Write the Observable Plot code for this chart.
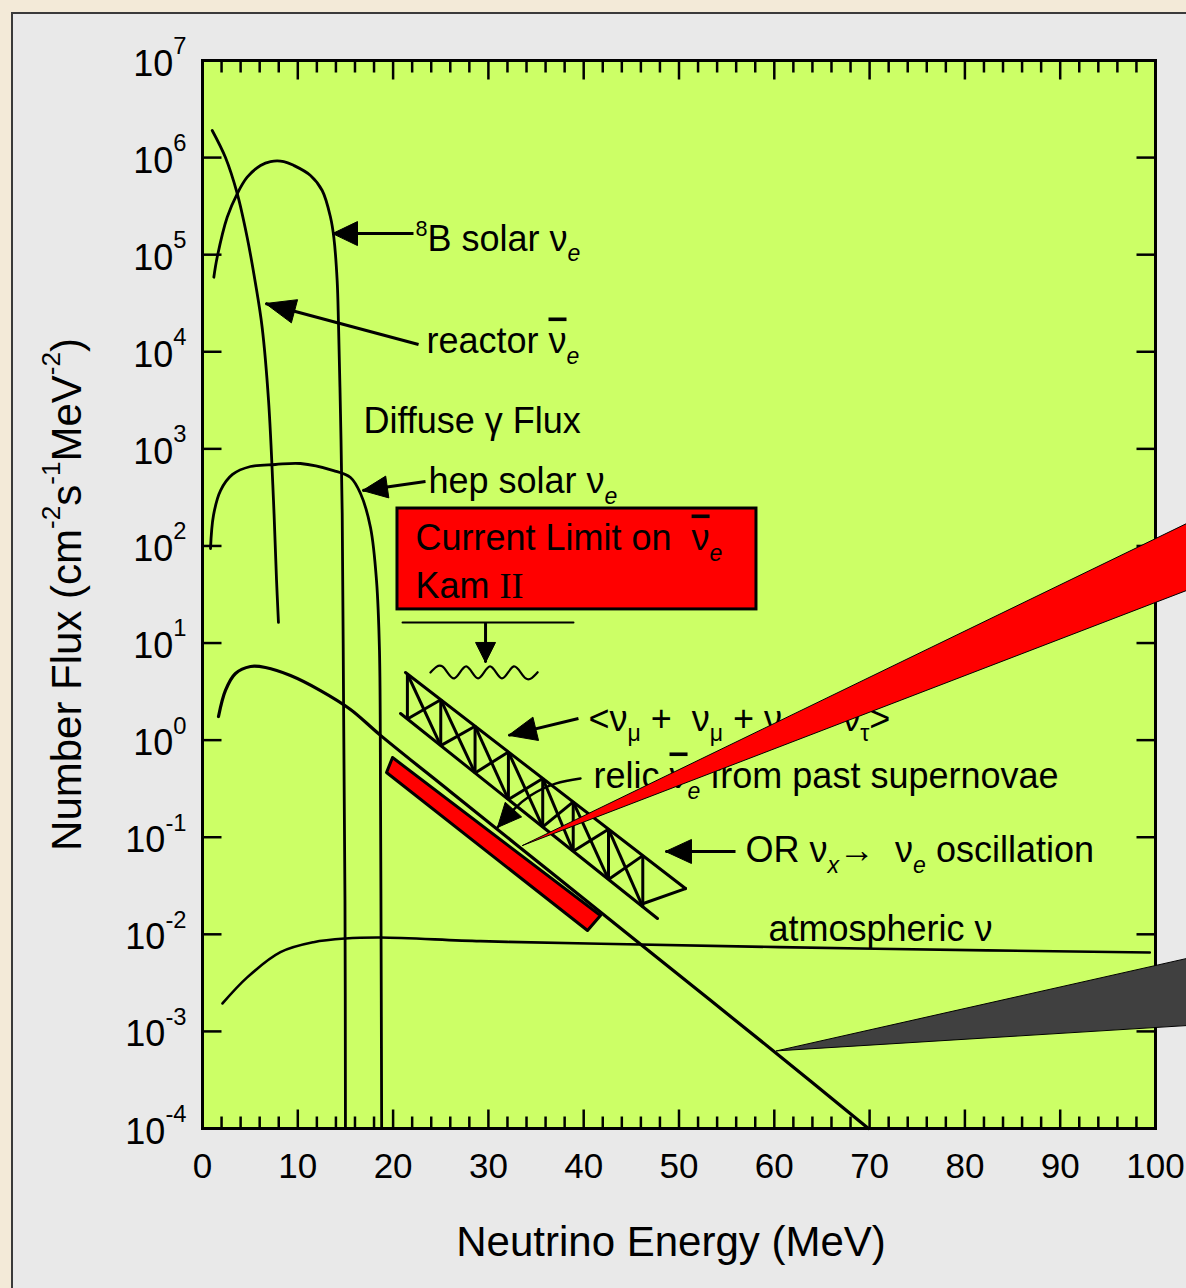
<!DOCTYPE html>
<html><head><meta charset="utf-8">
<script src="https://cdn.jsdelivr.net/npm/d3@7"></script>
<script src="https://cdn.jsdelivr.net/npm/@observablehq/plot@0.6"></script>
<style>
html,body{margin:0;padding:0;}
body{width:1186px;height:1288px;background:#f3ead8;position:relative;overflow:hidden;font-family:"Liberation Sans",Arial,sans-serif;}
#panel{position:absolute;left:11px;top:12px;width:1200px;height:1300px;background:#e9e9e9;border:2px solid #3a3a3a;box-sizing:border-box;}
#chart{position:absolute;left:0;top:0;}
#chart text{white-space:pre;}
</style></head><body><div id="panel"></div><div id="chart"></div>
<script>
// ---- data (energy in MeV, flux in cm^-2 s^-1 MeV^-1) ----
const reactorE = [1.02, 2.41, 3.64, 4.69, 5.56, 6.26, 6.93, 7.45, 7.77, 7.97];
const reactorF = [1.9e6, 1.0e6, 4.27e5, 1.5e5, 5.05e4, 1.78e4, 3.15e3, 294, 44, 16.3];
const b8E = [1.19, 1.54, 2.59, 3.64, 4.69, 6.09, 7.14, 8.53, 9.58, 11.33, 12.56, 13.43, 13.78, 14.13, 14.27, 14.48, 14.66, 14.80, 14.95, 15.0];
const b8F = [5.86e4, 9.4e4, 2.43e5, 4.24e5, 6.28e5, 8.3e5, 9.1e5, 9.1e5, 8.3e5, 6.55e5, 4.58e5, 2.43e5, 1.51e5, 5.4e4, 1.95e4, 2.3e3, 216, 2.56, 0.0223, 1e-4];
const hepE = [0.84, 1.15, 1.89, 3.15, 5.04, 7.66, 10.28, 13.75, 15.53, 16.58, 17.63, 18.26, 18.57, 18.68, 18.76, 18.8];
const hepF = [94, 206, 372, 545, 658, 690, 707, 598, 507, 347, 155, 44, 8.4, 0.24, 2.1e-3, 1e-4];
const diffuseE = [1.68, 2.41, 3.46, 5.04, 6.61, 9.23, 12.38, 15.53, 18.68, 26.02, 36.52, 47.01, 60.23, 69.88];
const diffuseF = [1.75, 3.25, 4.85, 5.73, 5.6, 4.63, 3.24, 2.07, 1.12, 0.294, 0.0438, 6.53e-3, 5.93e-4, 1.0e-4];
const atmosE = [2.10, 4.69, 8.18, 11.65, 15.0, 18.68, 29.17, 41.76, 70.6, 99.4];
const atmosF = [1.94e-3, 3.6e-3, 6.55e-3, 8.3e-3, 9.06e-3, 9.27e-3, 8.5e-3, 8.0e-3, 7.1e-3, 6.5e-3];

// relic band (red bar) corners
const relicBarE = [19.94, 41.76, 40.40, 19.31];
const relicBarF = [0.662, 0.0156, 0.01094, 0.464];
// oscillation band (hatched truss)
const bandTopE = [21.30, 50.68], bandTopF = [4.97, 0.0296];
const bandBotE = [20.78, 47.74], bandBotF = [1.88, 0.01455];
const bandCloseE = [50.68, 45.96], bandCloseF = [0.0296, 0.0203];
const strutE = [21.5, 25.0, 28.6, 32.1, 35.7, 38.9, 42.6, 46.2];
// Kam II limit
const limitE = [20.99, 38.93], limitF = [16.3, 16.3];
const boxE = [20.46, 58.13], boxF = [22.2, 243];
const waveE = [23.92, 25.17, 26.42, 27.67, 28.92, 30.17, 31.42, 32.67, 33.92, 35.17];
const waveF = [4.97, 5.74, 4.32, 5.74, 4.32, 5.74, 4.32, 5.74, 4.32, 5.0];
// callout wedges
const redWedgeE = [33.58, 104, 104], redWedgeF = [0.0822, 184.5, 37.1];
const grayWedgeE = [60.23, 104, 104], grayWedgeF = [6.3e-4, 5.85e-3, 1.16e-3];
// arrows: tail -> tip
const arrowTail = [[22.14, 1.65e5], [22.67, 1.19e4], [23.4, 461], [29.70, 16.3], [39.45, 1.67], [55.93, 0.0713]];
const arrowTip  = [[13.64, 1.65e5], [6.61, 3.14e4], [16.79, 372], [29.70, 6.31], [32.11, 1.12], [48.58, 0.0713]];
const arrowHead = [[25, 12], [30, 12], [25, 11], [20, 10], [28, 12], [26, 12]];
const relicArrowE = [39.66, 37.04, 34.42, 32.53, 30.95];
const relicArrowF = [0.403, 0.357, 0.269, 0.188, 0.126];
// labels  (^{} superscript, _{} subscript, ~{} overbar, !{} serif)
const labelText = ["^{8}B solar ν_{e}", "reactor ~{ν}_{e}", "Diffuse γ Flux", "hep solar ν_{e}",
  "Current Limit on  ~{ν}_{e}", "Kam !{II}", "<ν_{μ} +  ν_{μ} + ν_{τ} +  ν_{τ}>",
  "relic ~{ν}_{e} from past supernovae", "OR ν_{x}→  ν_{e} oscillation", "atmospheric ν"];
const labelE = [22.35, 23.50, 16.89, 23.71, 22.35, 22.35, 40.50, 41.03, 56.98, 59.39];
const labelF = [1.10e5, 9.6e3, 1.44e3, 347, 89.8, 28.8, 1.256, 0.318, 0.055, 8.63e-3];
// axes
const xLabels = [0, 10, 20, 30, 40, 50, 60, 70, 80, 90, 100];
const xMinor = d3.range(2, 100, 2).filter(d => d % 10 !== 0);
const yExponents = [-4, -3, -2, -1, 0, 1, 2, 3, 4, 5, 6, 7];
const xTitle = "Neutrino Energy (MeV)";
const yTitle = "Number Flux (cm^{-2}s^{-1}MeV^{-2})";

// ---- helpers ----
const pts = (E, F) => E.map((e, i) => ({E: e, F: F[i]}));
const xPix = d3.scaleLinear([0, 100], [202, 1155]);
const yPix = d3.scaleLog([1e-4, 1e7], [1128, 60]);
const edge = (E, F) => { const s = d3.scaleLinear().domain(E).range(F.map(Math.log10)); return e => 10 ** s(e); };
const topF = edge(bandTopE, bandTopF), botF = edge(bandBotE, bandBotF);
const struts = strutE.map(e => ({E: e, top: topF(e), bot: botF(e)}));
const diags = [];
for (let i = 0; i < struts.length - 1; i++) {
  const a = struts[i], b = struts[i + 1];
  diags.push({E1: a.E, F1: a.top, E2: b.E, F2: b.bot});
  diags.push({E1: a.E, F1: a.bot, E2: b.E, F2: b.top});
}
function head(tail, tip, len, half, id) {
  const px = xPix(tip[0]), py = yPix(tip[1]), qx = xPix(tail[0]), qy = yPix(tail[1]);
  const d = Math.hypot(px - qx, py - qy), ux = (px - qx) / d, uy = (py - qy) / d;
  const bx = px - ux * len, by = py - uy * len;
  return [[px, py], [bx - uy * half, by + ux * half], [bx + uy * half, by - ux * half], [px, py]]
    .map(([X, Y]) => ({E: xPix.invert(X), F: yPix.invert(Y), id}));
}
const heads = arrowTail.flatMap((t, i) => head(t, arrowTip[i], arrowHead[i][0], arrowHead[i][1], i));
const nR = relicArrowE.length;
heads.push(...head([relicArrowE[nR - 2], relicArrowF[nR - 2]], [relicArrowE[nR - 1], relicArrowF[nR - 1]], 24, 11, 99));
const arrows = arrowTail.map((t, i) => ({E1: t[0], F1: t[1], E2: arrowTip[i][0], F2: arrowTip[i][1]}));
const closed = a => [...a, a[0]];
const tickSym = (dx, dy) => ({draw(ctx) { ctx.moveTo(0, 0); ctx.lineTo(dx, dy); }});

const curves = [
  {E: reactorE, F: reactorF, w: 2.8}, {E: b8E, F: b8F, w: 2.8}, {E: hepE, F: hepF, w: 2.8},
  {E: diffuseE, F: diffuseF, w: 3.2}, {E: atmosE, F: atmosF, w: 2.6}
];

const svg = Plot.plot({
  width: 1186, height: 1288,
  marginLeft: 202, marginRight: 31, marginTop: 60, marginBottom: 160,
  x: {domain: [0, 100], axis: null},
  y: {type: "log", domain: [1e-4, 1e7], axis: null},
  style: {background: "transparent", fontFamily: '"Liberation Sans", Arial, sans-serif', color: "black", overflow: "visible"},
  marks: [
    Plot.frame({fill: "#ccff66", stroke: "none"}),
    ...curves.map(c => Plot.line(pts(c.E, c.F), {x: "E", y: "F", curve: "catmull-rom", stroke: "black", strokeWidth: c.w})),
    // hatched band
    Plot.line(pts(bandTopE, bandTopF), {x: "E", y: "F", stroke: "black", strokeWidth: 3}),
    Plot.line(pts(bandBotE, bandBotF), {x: "E", y: "F", stroke: "black", strokeWidth: 3}),
    Plot.line(pts(bandCloseE, bandCloseF), {x: "E", y: "F", stroke: "black", strokeWidth: 3}),
    Plot.link(struts, {x1: "E", x2: "E", y1: "top", y2: "bot", stroke: "black", strokeWidth: 3}),
    Plot.link(diags, {x1: "E1", y1: "F1", x2: "E2", y2: "F2", stroke: "black", strokeWidth: 3}),
    // Kam II limit
    Plot.line(pts(limitE, limitF), {x: "E", y: "F", stroke: "black", strokeWidth: 2}),
    Plot.line(pts(waveE, waveF), {x: "E", y: "F", curve: "natural", stroke: "black", strokeWidth: 2.2}),
    // arrows
    Plot.link(arrows, {x1: "E1", y1: "F1", x2: "E2", y2: "F2", stroke: "black", strokeWidth: 3}),
    Plot.line(pts(relicArrowE, relicArrowF), {x: "E", y: "F", curve: "natural", stroke: "black", strokeWidth: 2.5}),
    Plot.line(heads, {x: "E", y: "F", z: "id", fill: "black", stroke: "black", strokeWidth: 1}),
    // red box & relic bar
    Plot.rect([0], {x1: () => boxE[0], x2: () => boxE[1], y1: () => boxF[0], y2: () => boxF[1], fill: "#ff0000", stroke: "black", strokeWidth: 3}),
    Plot.line(closed(pts(relicBarE, relicBarF)), {x: "E", y: "F", fill: "#ff0000", stroke: "black", strokeWidth: 3}),
    // annotations
    Plot.text(labelText.map((t, i) => i), {x: i => labelE[i], y: i => labelF[i], text: i => labelText[i],
      textAnchor: "start", lineAnchor: "bottom", fontSize: 36}),
    // frame & ticks
    Plot.frame({stroke: "black", strokeWidth: 3}),
    Plot.dot(xMinor, {x: d => d, frameAnchor: "bottom", symbol: tickSym(0, -12), stroke: "black", strokeWidth: 2.5}),
    Plot.dot(xMinor, {x: d => d, frameAnchor: "top", symbol: tickSym(0, 12), stroke: "black", strokeWidth: 2.5}),
    Plot.dot(xLabels, {x: d => d, frameAnchor: "bottom", symbol: tickSym(0, -19), stroke: "black", strokeWidth: 2.5}),
    Plot.dot(xLabels, {x: d => d, frameAnchor: "top", symbol: tickSym(0, 19), stroke: "black", strokeWidth: 2.5}),
    Plot.dot(yExponents, {y: d => 10 ** d, frameAnchor: "left", symbol: tickSym(19, 0), stroke: "black", strokeWidth: 2.5}),
    Plot.dot(yExponents, {y: d => 10 ** d, frameAnchor: "right", symbol: tickSym(-19, 0), stroke: "black", strokeWidth: 2.5}),
    // callout wedges
    Plot.line(closed(pts(redWedgeE, redWedgeF)), {x: "E", y: "F", fill: "#ff0000", stroke: "black", strokeWidth: 1}),
    Plot.line(closed(pts(grayWedgeE, grayWedgeF)), {x: "E", y: "F", fill: "#404040", stroke: "black", strokeWidth: 1}),
    // tick labels & titles
    Plot.text(xLabels, {x: d => d, frameAnchor: "bottom", dy: 49, text: d => String(d), fontSize: 35, lineAnchor: "bottom"}),
    Plot.text(yExponents, {y: d => 10 ** d, frameAnchor: "left", dx: -16, dy: 15, text: d => `10^{${d}}`,
      textAnchor: "end", lineAnchor: "bottom", fontSize: 36}),
    Plot.text([xTitle], {frameAnchor: "bottom", dx: -8, dy: 127, text: d => d, fontSize: 42, lineAnchor: "bottom"}),
    Plot.text([yTitle], {frameAnchor: "left", dx: -122, text: d => d, rotate: -90, fontSize: 42, lineAnchor: "bottom", textAnchor: "middle"})
  ]
});
document.getElementById("chart").appendChild(svg);

// ---- rich text (superscripts / subscripts / overbar / serif) ----
const NS = "http://www.w3.org/2000/svg";
function richify(el, o) {
  const s = el.textContent;
  const base = parseFloat(getComputedStyle(el).fontSize) || 34;
  const parts = s.split(/(\^\{[^}]*\}|_\{[^}]*\}|!\{[^}]*\}|~\{[^}]*\})/).filter(p => p.length);
  while (el.firstChild) el.removeChild(el.firstChild);
  let cur = 0;
  for (const p of parts) {
    const t = document.createElementNS(NS, "tspan");
    let off = 0, txt = p;
    if (p.startsWith("^{")) { off = -o.sup * base; txt = p.slice(2, -1); t.setAttribute("font-size", o.supSize * base); }
    else if (p.startsWith("_{")) { off = o.sub * base; txt = p.slice(2, -1); t.setAttribute("font-size", o.subSize * base); if (/^[ex]$/.test(txt)) t.setAttribute("font-style", "italic"); }
    else if (p.startsWith("!{")) { txt = p.slice(2, -1); t.setAttribute("font-family", '"Liberation Serif", "Times New Roman", serif'); }
    else if (p.startsWith("~{")) { txt = p.slice(2, -1); t.setAttribute("text-decoration", "overline"); t.style.textDecoration = "overline"; }
    if (off !== cur) { t.setAttribute("dy", off - cur); cur = off; }
    t.textContent = txt;
    el.appendChild(t);
  }
}
Array.from(svg.querySelectorAll("text")).forEach(el => {
  const s = el.textContent;
  if (!/[\^_!~]\{/.test(s)) return;
  if (s.startsWith("10^{")) richify(el, {sup: 0.6, supSize: 0.66, sub: 0.3, subSize: 0.6});
  else if (s.startsWith("Number")) richify(el, {sup: 0.5, supSize: 0.62, sub: 0.3, subSize: 0.6});
  else richify(el, {sup: 0.42, supSize: 0.6, sub: 0.28, subSize: 0.64});
});
</script></body></html>
